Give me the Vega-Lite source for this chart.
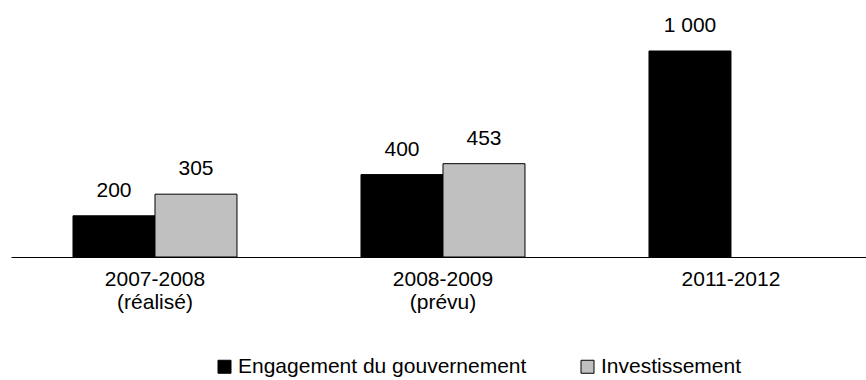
{
  "$schema": "https://vega.github.io/schema/vega-lite/v6.json",
  "width": 855,
  "height": 206,
  "padding": {"left": 11, "top": 51, "right": 0, "bottom": 123},
  "autosize": {"type": "none"},
  "background": "white",
  "config": {
    "view": {"stroke": null},
    "font": "Liberation Sans",
    "text": {"font": "Liberation Sans"}
  },
  "data": {
    "values": [
      {"period": "2007-2008|(réalisé)", "series": "Engagement du gouvernement", "value": 200, "label": "200"},
      {"period": "2007-2008|(réalisé)", "series": "Investissement", "value": 305, "label": "305"},
      {"period": "2008-2009|(prévu)", "series": "Engagement du gouvernement", "value": 400, "label": "400"},
      {"period": "2008-2009|(prévu)", "series": "Investissement", "value": 453, "label": "453"},
      {"period": "2011-2012", "series": "Engagement du gouvernement", "value": 1000, "label": "1 000"}
    ]
  },
  "encoding": {
    "x": {
      "field": "period",
      "type": "nominal",
      "sort": null,
      "scale": {"paddingInner": 0.4306, "paddingOuter": 0.1997, "align": 0.539},
      "axis": {
        "title": null,
        "labelExpr": "split(datum.label, '|')",
        "labelAngle": 0,
        "labelFontSize": 21,
        "labelColor": "black",
        "labelFont": "Liberation Sans",
        "labelLineHeight": 23,
        "labelPadding": 11,
        "labelLimit": 300,
        "ticks": false,
        "domainColor": "black",
        "domainWidth": 1,
        "grid": false
      }
    },
    "xOffset": {
      "field": "series",
      "type": "nominal",
      "scale": {"domain": ["Engagement du gouvernement", "Investissement"], "paddingInner": 0, "paddingOuter": 0}
    },
    "y": {
      "field": "value",
      "type": "quantitative",
      "scale": {"domain": [0, 1000], "nice": false},
      "axis": null
    }
  },
  "layer": [
    {
      "mark": {"type": "bar", "stroke": "black", "strokeWidth": 1},
      "encoding": {
        "color": {
          "field": "series",
          "type": "nominal",
          "scale": {"domain": ["Engagement du gouvernement", "Investissement"], "range": ["#000000", "#c0c0c0"]},
          "legend": {
            "title": null,
            "orient": "none",
            "direction": "horizontal",
            "legendX": 203,
            "legendY": 305,
            "symbolType": "square",
            "symbolSize": 169,
            "symbolStrokeColor": "black",
            "symbolStrokeWidth": 1,
            "symbolOpacity": 1,
            "labelFontSize": 21,
            "labelColor": "black",
            "labelFont": "Liberation Sans",
            "labelLimit": 400,
            "labelOffset": 3,
            "columnPadding": 50,
            "symbolOffset": 0
          }
        }
      }
    },
    {
      "mark": {"type": "text", "baseline": "alphabetic", "dy": -19, "fontSize": 21, "color": "black", "font": "Liberation Sans"},
      "encoding": {
        "text": {"field": "label"}
      }
    }
  ]
}
